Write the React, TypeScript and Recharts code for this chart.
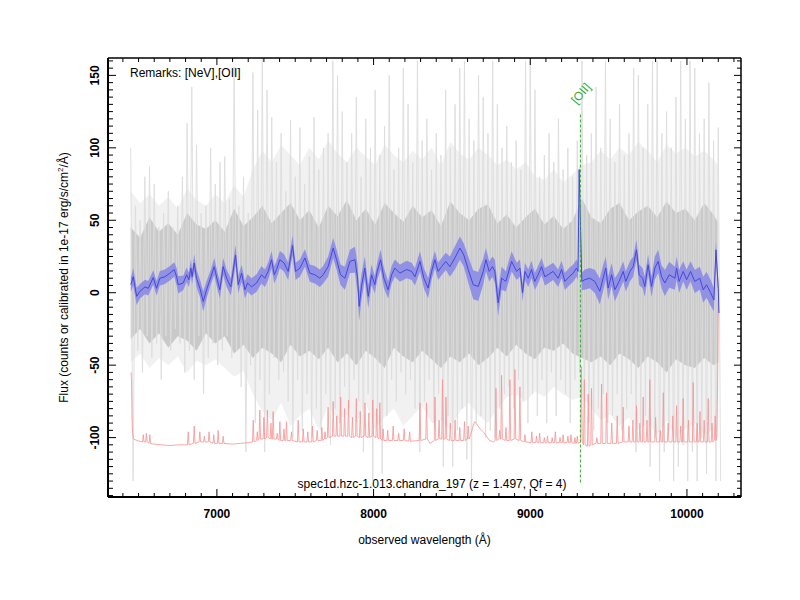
import React from 'react';
import { ComposedChart, XAxis, YAxis, Area, Line } from 'recharts';

const FONT = '"Liberation Sans", Arial, Helvetica, sans-serif';

// smoothed spectrum (blue) : wavelength, flux, 1-sigma
const blueWl = [6451,6466,6488,6509,6541,6562,6594,6615,6636,6668,
6700,6728,6743,6753,6785,6807,6821,6834,6842,6855,
6870,6892,6913,6934,6962,6983,7004,7019,7040,7062,
7089,7119,7136,7158,7179,7196,7221,7253,7285,7306,
7327,7349,7366,7381,7402,7429,7455,7483,7502,7530,
7562,7593,7625,7657,7678,7710,7742,7764,7789,7817,
7849,7881,7898,7908,7923,7944,7966,7987,8008,8023,
8045,8066,8093,8115,8136,8168,8211,8243,8264,8296,
8321,8348,8370,8391,8412,8434,8461,8487,8519,8551,
8576,8604,8636,8668,8700,8717,8738,8759,8774,8795,
8817,8844,8881,8913,8934,8951,8966,8987,9008,9029,
9050,9072,9093,9114,9146,9178,9200,9221,9248,9274,
9295,9305,9312,9329,9348,9380,9412,9444,9465,9482,
9497,9519,9540,9567,9593,9610,9636,9657,9678,9695,
9717,9731,9752,9774,9795,9816,9838,9859,9887,9923,
9934,9950,9976,9998,10023,10050,10082,10104,10125,10151,
10172,10185,10200,10204];
const blueV = [5.5,11,-2.5,1,4,3,10.5,3,10,11,
13.5,16,11,5.5,6.7,12.4,9,17,11,20.5,
10,3,-6,2,11,18,8,2,18,10,
4,26,5.5,13.5,2,6.7,4,6.7,12.4,10,
14.7,22.8,12.4,16,22.8,20.5,14.7,32.6,14.7,17,
24,13.5,12.4,10,12.4,18,30.8,22.8,12.4,10,
21.6,22.8,10,-9.4,4.3,17,-2.5,12.4,5.5,14.7,
22.8,10,2,12.4,17,13.5,16,14.7,11,21.6,
10,3.2,14.7,22.8,14.7,18,21.6,18,24,30.8,
26,16,5.5,4.3,14.7,22.8,14.7,18,14.7,-7,
10,7.8,21.6,14.7,17,0,14.7,10,16,7.8,
12.4,18,11,12.4,14.7,10,16,7.8,11,13.5,
17,14.7,85,7.8,9,10,7.8,1,10,17,
3.2,12.4,2,7.8,14.7,7.8,14.7,18,29.6,12.4,
10,4.3,19.3,4.3,17,21.6,11,6.7,12.4,10,
17,7.8,14.7,9,14.7,7.8,10,2,5.5,0,
-5,29.6,3,-14];
const blueErr = [5,6,6,5,5,5,5,5,5,5,
5,5,6,6,5,5,5,6,5,6,
6,6,7,6,5,6,6,6,6,6,
6,7,6,6,6,6,6,6,6,6,
6,6,6,6,6,6,6,7,6,6,
6,6,6,6,6,7,7,7,7,8,
8,9,10,10,9,8,8,7,6,6,
7,7,6,6,6,6,6,6,6,7,
7,7,6,6,6,6,6,7,8,8,
8,9,10,10,9,8,7,7,8,9,
8,7,7,6,6,6,6,6,6,6,
6,6,6,6,6,6,6,6,6,6,
6,6,4,6,7,7,8,9,9,8,
8,8,8,7,7,7,7,7,7,7,
7,7,7,7,8,8,8,9,9,8,
8,8,7,7,7,8,8,9,9,9,
8,6,6,6];

// raw spectrum (grey): per 30 A bin, highest and lowest excursion
const grayWl = [6450,6480,6510,6540,6570,6600,6630,6660,6690,6720,
6750,6780,6810,6840,6870,6900,6930,6960,6990,7020,
7050,7080,7110,7140,7170,7200,7230,7260,7290,7320,
7350,7380,7410,7440,7470,7500,7530,7560,7590,7620,
7650,7680,7710,7740,7770,7800,7830,7860,7890,7920,
7950,7980,8010,8040,8070,8100,8130,8160,8190,8220,
8250,8280,8310,8340,8370,8400,8430,8460,8490,8520,
8550,8580,8610,8640,8670,8700,8730,8760,8790,8820,
8850,8880,8910,8940,8970,9000,9030,9060,9090,9120,
9150,9180,9210,9240,9270,9300,9330,9360,9390,9420,
9450,9480,9510,9540,9570,9600,9630,9660,9690,9720,
9750,9780,9810,9840,9870,9900,9930,9960,9990,10020,
10050,10080,10110,10140,10170,10200];
const grayHi = [100,60,50,80,87,75,45,55,70,45,
60,80,117,142,102,55,60,100,75,90,
94,65,156,60,80,55,152,126,163,140,
121,90,110,70,119,80,114,75,94,121,
85,100,110,160,150,125,90,110,135,80,
120,100,140,95,115,150,85,100,155,130,
90,160,105,120,85,110,95,140,100,130,
155,160,120,105,150,135,110,160,130,100,
115,90,105,85,160,160,140,80,95,110,
90,120,85,100,80,105,160,95,110,142,
100,160,120,90,130,95,110,155,150,100,
130,160,160,110,125,100,135,160,120,160,
155,110,120,145,105,114];
const grayLo = [-130,-40,-55,-30,-45,-35,-60,-30,-40,-25,
-35,-55,-40,-60,-30,-70,-45,-35,-50,-40,
-30,-45,-40,-65,-110,-50,-90,-60,-110,-70,
-45,-60,-55,-75,-100,-60,-95,-70,-100,-80,
-95,-70,-105,-80,-90,-65,-80,-60,-75,-110,
-70,-130,-90,-125,-85,-60,-75,-55,-70,-60,
-80,-110,-75,-60,-90,-70,-120,-85,-120,-95,
-80,-115,-130,-90,-85,-100,-95,-100,-80,-70,
-65,-80,-60,-75,-90,-70,-85,-60,-90,-55,
-85,-60,-70,-90,-60,-55,-75,-90,-95,-80,
-70,-90,-85,-70,-95,-80,-70,-110,-90,-85,
-120,-100,-130,-110,-95,-130,-120,-105,-130,-110,
-130,-100,-125,-95,-130,-130];

// envelopes of the raw spectrum, per 60 A: faint haze (mid) and dense core
const envWl = [6450,6510,6570,6630,6690,6750,6810,6870,6930,6990,
7050,7110,7170,7230,7290,7350,7410,7470,7530,7590,
7650,7710,7770,7830,7890,7950,8010,8070,8130,8190,
8250,8310,8370,8430,8490,8550,8610,8670,8730,8790,
8850,8910,8970,9030,9090,9150,9210,9270,9330,9390,
9450,9510,9570,9630,9690,9750,9810,9870,9930,9990,
10050,10110,10170,10200];
const midHi = [70,62,68,60,66,58,72,64,60,68,
62,74,66,85,98,90,102,95,88,100,
92,105,96,90,100,94,88,102,95,90,
98,92,100,88,104,96,92,100,95,88,
92,85,90,80,78,85,76,82,88,90,
98,92,100,95,104,98,90,102,96,100,
94,98,92,88];
const midLo = [-48,-42,-52,-45,-50,-44,-55,-47,-50,-46,
-52,-58,-54,-70,-82,-88,-76,-92,-85,-80,
-95,-78,-88,-84,-90,-76,-94,-86,-80,-92,
-85,-78,-90,-88,-95,-82,-76,-85,-90,-80,
-72,-70,-75,-68,-72,-65,-70,-74,-72,-80,
-88,-84,-92,-86,-95,-90,-98,-88,-100,-94,
-90,-98,-95,-100];
const coreHi = [45,38,52,42,48,40,55,47,44,50,
42,58,46,52,60,48,55,62,50,57,
45,60,53,64,50,58,47,62,55,49,
60,52,57,46,63,55,50,58,61,48,
54,45,52,58,47,53,44,50,65,52,
48,58,62,50,56,60,52,63,55,58,
50,62,54,48];
const coreLo = [-32,-25,-35,-28,-38,-30,-33,-40,-28,-35,
-30,-42,-36,-45,-38,-42,-48,-36,-44,-40,
-46,-38,-48,-42,-50,-40,-45,-52,-38,-44,
-48,-40,-46,-52,-44,-48,-42,-50,-45,-38,
-44,-36,-42,-46,-38,-40,-35,-42,-45,-48,
-44,-50,-42,-46,-52,-44,-48,-55,-46,-50,
-52,-45,-50,-48];

// noise / sky spectrum (red), offset below: narrow emission spikes [wl, peak, local floor]
const redSpikes: [number, number, number][] = [
[6530,-98,-103],[6550,-97,-103],[6572,-98,-104],[6817,-96,-105],[6855,-92,-104],[6891,-96,-103],[6920,-99,-103],
[6950,-96,-103],[6980,-98,-104],[7008,-95,-104],[7040,-99,-104],[7232,-88,-103],[7258,-96,-102],[7274,-81,-101],
[7300,-86,-101],[7322,-81,-100],[7345,-90,-101],[7359,-82,-101],[7385,-97,-101],[7402,-89,-102],[7428,-94,-102],
[7444,-89,-102],[7476,-96,-102],[7519,-88,-103],[7551,-94,-103],[7580,-96,-103],[7610,-92,-103],[7640,-95,-102],
[7670,-93,-102],[7690,-96,-101],[7710,-79,-100],[7742,-75,-99],[7765,-85,-99],[7790,-72,-99],[7815,-80,-99],
[7840,-74,-99],[7865,-86,-100],[7890,-73,-99],[7915,-82,-100],[7945,-76,-99],[7970,-83,-100],[7995,-74,-99],
[8020,-80,-100],[8040,-76,-101],[8061,-94,-102],[8090,-95,-102],[8125,-92,-102],[8160,-97,-102],[8195,-94,-102],
[8230,-96,-102.5],[8296,-76,-102],[8338,-76,-101],[8392,-72,-102],[8418,-88,-101],[8440,-60,-101],[8462,-72,-101],
[8490,-90,-102],[8520,-88,-102],[8550,-93,-102],[8580,-89,-102],[8604,-92,-101],[8781,-66,-102],[8805,-95,-101],
[8817,-57,-101],[8845,-93,-102],[8870,-60,-102],[8902,-53,-101],[8934,-65,-102],[8966,-98,-103],[9010,-96,-103.5],
[9040,-99,-103.5],[9060,-97,-103.5],[9090,-100,-103.5],[9110,-99,-103.5],[9140,-100,-103.5],[9160,-96,-103.5],
[9190,-100,-103.5],[9210,-98,-103.5],[9240,-99,-103.5],[9260,-98,-103.5],[9285,-100,-104],[9300,-99,-104],
[9327,-51,-103],[9345,-60,-105],[9370,-70,-106],[9391,-66,-105],[9425,-100,-104],[9455,-63,-104],[9487,-69,-104],
[9520,-90,-104],[9555,-85,-104],[9593,-79,-103],[9630,-92,-103],[9655,-88,-103],[9678,-78,-103],[9700,-90,-103],
[9721,-72,-103],[9745,-88,-103],[9763,-60,-103],[9800,-86,-103],[9830,-95,-103],[9849,-69,-103],[9880,-90,-103],
[9910,-85,-103],[9934,-78,-103],[9960,-92,-103],[9976,-73,-103],[10010,-88,-103],[10040,-62,-103],[10065,-90,-103],
[10083,-82,-103],[10110,-88,-103],[10136,-73,-103],[10160,-90,-103],[10180,-85,-102]
];
// start, broad features, continuum anchors and end of the red spectrum
const redOther: [number, number][] = [
[6452,-55],[6455,-60],[6458,-85],[6462,-97],[6468,-101],[6490,-102],[6600,-104.5],[6700,-105.5],[6760,-105],
[7100,-104.5],[7150,-104],[7200,-103.5],[8360,-104],[8620,-98],[8635,-92],[8645,-89],[8660,-91],[8680,-94],
[8700,-96],[8720,-99],[8740,-102],[8765,-103],[10190,-101],[10195,-70],[10200,-5]
];

// [OII] marker
const oiiWl = 9320;
const oiiTop = 123;
const oiiBottom = -131;

const xDomain = [6305, 10345];
const yDomain = [-141, 162];
const xMajor = [7000, 8000, 9000, 10000];
const xTicks = [6400,6500,6600,6700,6800,6900,7000,7100,7200,7300,7400,7500,7600,7700,7800,7900,8000,8100,8200,8300,8400,8500,8600,8700,8800,8900,9000,9100,9200,9300,9400,9500,9600,9700,9800,9900,10000,10100,10200,10300];
const yMajor = [-100, -50, 0, 50, 100, 150];
const yTicks = [-140,-135,-130,-125,-120,-115,-110,-105,-100,-95,-90,-85,-80,-75,-70,-65,-60,-55,-50,-45,-40,-35,-30,-25,-20,-15,-10,-5,0,5,10,15,20,25,30,35,40,45,50,55,60,65,70,75,80,85,90,95,100,105,110,115,120,125,130,135,140,145,150,155,160];

const blueData = blueWl.map((wl, i) => ({ wl, v: blueV[i], band: [blueV[i] - blueErr[i], blueV[i] + blueErr[i]] }));
const grayData = grayWl.flatMap((wl, i) => [{ wl, f: grayHi[i] }, { wl: wl + 15, f: grayLo[i] }]);
const midData = envWl.map((wl, i) => ({ wl, r: [midLo[i], midHi[i]] }));
const coreData = envWl.map((wl, i) => ({ wl, r: [coreLo[i], coreHi[i]] }));
const redData = [
  ...redSpikes.flatMap(([wl, peak, floor]) => [{ wl: wl - 5, f: floor }, { wl, f: peak }, { wl: wl + 5, f: floor }]),
  ...redOther.map(([wl, f]) => ({ wl, f })),
].sort((a, b) => a.wl - b.wl);
const oiiData = [{ wl: oiiWl, f: oiiTop }, { wl: oiiWl, f: oiiBottom }];

const tickText = { fontSize: 12, fontWeight: 'bold' as const, fontFamily: FONT, fill: '#000' };

const BottomTick = (p: any) => {
  const { x, y, payload } = p;
  const major = xMajor.includes(payload.value);
  return (
    <g>
      <line x1={x} x2={x} y1={y} y2={y - (major ? 8 : 4)} stroke="#000" strokeWidth={1} />
      {major && <text x={x} y={y + 21} textAnchor="middle" {...tickText}>{payload.value}</text>}
    </g>
  );
};
const TopTick = (p: any) => {
  const { x, y, payload } = p;
  const major = xMajor.includes(payload.value);
  return <line x1={x} x2={x} y1={y} y2={y + (major ? 7 : 4)} stroke="#000" strokeWidth={1} />;
};
const LeftTick = (p: any) => {
  const { x, y, payload } = p;
  const major = yMajor.includes(payload.value);
  const lx = x - 9;
  return (
    <g>
      <line x1={x} x2={x + (major ? 8 : 5)} y1={y} y2={y} stroke="#000" strokeWidth={1} />
      {major && (
        <text x={lx} y={y} transform={`rotate(-90 ${lx} ${y})`} textAnchor="middle" {...tickText}>
          {payload.value}
        </text>
      )}
    </g>
  );
};
const RightTick = (p: any) => {
  const { x, y, payload } = p;
  const major = yMajor.includes(payload.value);
  return <line x1={x} x2={x - (major ? 7 : 4)} y1={y} y2={y} stroke="#000" strokeWidth={1} />;
};

const W = 784;
const H = 584;

export default function App() {
  const common = { xAxisId: 'b', yAxisId: 'l', isAnimationActive: false } as any;
  return (
    <div style={{ position: 'relative', width: W, height: H, background: '#fff' }}>
      <ComposedChart width={W} height={H} margin={{ top: 49, right: 50, bottom: 94, left: 99 }}>
        <XAxis xAxisId="b" type="number" dataKey="wl" domain={xDomain} allowDataOverflow ticks={xTicks} interval={0}
          height={1} tickSize={0} tickMargin={0} axisLine={{ stroke: '#000', strokeWidth: 2 }} tickLine={false}
          tick={(p: any) => <BottomTick {...p} />} />
        <XAxis xAxisId="t" orientation="top" type="number" dataKey="wl" domain={xDomain} allowDataOverflow ticks={xTicks} interval={0}
          height={1} tickSize={0} tickMargin={0} axisLine={{ stroke: '#000', strokeWidth: 1.5 }} tickLine={false}
          tick={(p: any) => <TopTick {...p} />} />
        <YAxis yAxisId="l" type="number" domain={yDomain} allowDataOverflow ticks={yTicks} interval={0}
          width={1} tickSize={0} tickMargin={0} axisLine={{ stroke: '#000', strokeWidth: 2 }} tickLine={false}
          tick={(p: any) => <LeftTick {...p} />} />
        <YAxis yAxisId="r" orientation="right" type="number" domain={yDomain} allowDataOverflow ticks={yTicks} interval={0}
          width={1} tickSize={0} tickMargin={0} axisLine={{ stroke: '#000', strokeWidth: 1.5 }} tickLine={false}
          tick={(p: any) => <RightTick {...p} />} />

        <Area {...common} data={midData} dataKey="r" type="linear" stroke="none" fill="#f1f1f1" fillOpacity={1} dot={false} activeDot={false} />
        <Area {...common} data={coreData} dataKey="r" type="linear" stroke="none" fill="#c9c9c9" fillOpacity={1} dot={false} activeDot={false} />
        <Area {...common} data={grayData} dataKey="f" type="linear" stroke="#dcdcdc" strokeWidth={0.9} fill="none" dot={false} activeDot={false} />
        <Area {...common} data={blueData} dataKey="band" type="linear" stroke="none" fill="#8c8ce6" fillOpacity={0.92} dot={false} activeDot={false} />
        <Line {...common} data={redData} dataKey="f" type="linear" stroke="#f59393" strokeWidth={0.8} dot={false} activeDot={false} />
        <Line {...common} data={blueData} dataKey="v" type="linear" stroke="#4646dc" strokeWidth={1} dot={false} activeDot={false} />
        <Line {...common} data={oiiData} dataKey="f" type="linear" stroke="#2fae2f" strokeWidth={1} strokeDasharray="3 2" dot={false} activeDot={false} />
      </ComposedChart>
      <svg width={W} height={H} style={{ position: 'absolute', left: 0, top: 0, pointerEvents: 'none' }}>
        <text x={122} y={69} fontSize={12} fontFamily={FONT} fill="#000">Remarks: [NeV],[OII]</text>
        <text x={424} y={480} fontSize={12} fontFamily={FONT} fill="#000" textAnchor="middle">spec1d.hzc-1.013.chandra_197 (z = 1.497, Qf = 4)</text>
        <text x={416.5} y={536} fontSize={12} fontFamily={FONT} fill="#000" textAnchor="middle">observed wavelength (Å)</text>
        <text x={60} y={269.5} fontSize={12} fontFamily={FONT} fill="#000" textAnchor="middle" transform="rotate(-90 60 269.5)">
          Flux (counts or calibrated in 1e-17 erg/s/cm<tspan dy={-5} fontSize={8}>2</tspan><tspan dy={5}>/Å)</tspan>
        </text>
        <text x={576} y={88} fontSize={12} fontFamily={FONT} fill="#2fae2f" textAnchor="middle" transform="rotate(-50 576 88)">[OII]</text>
      </svg>
    </div>
  );
}
